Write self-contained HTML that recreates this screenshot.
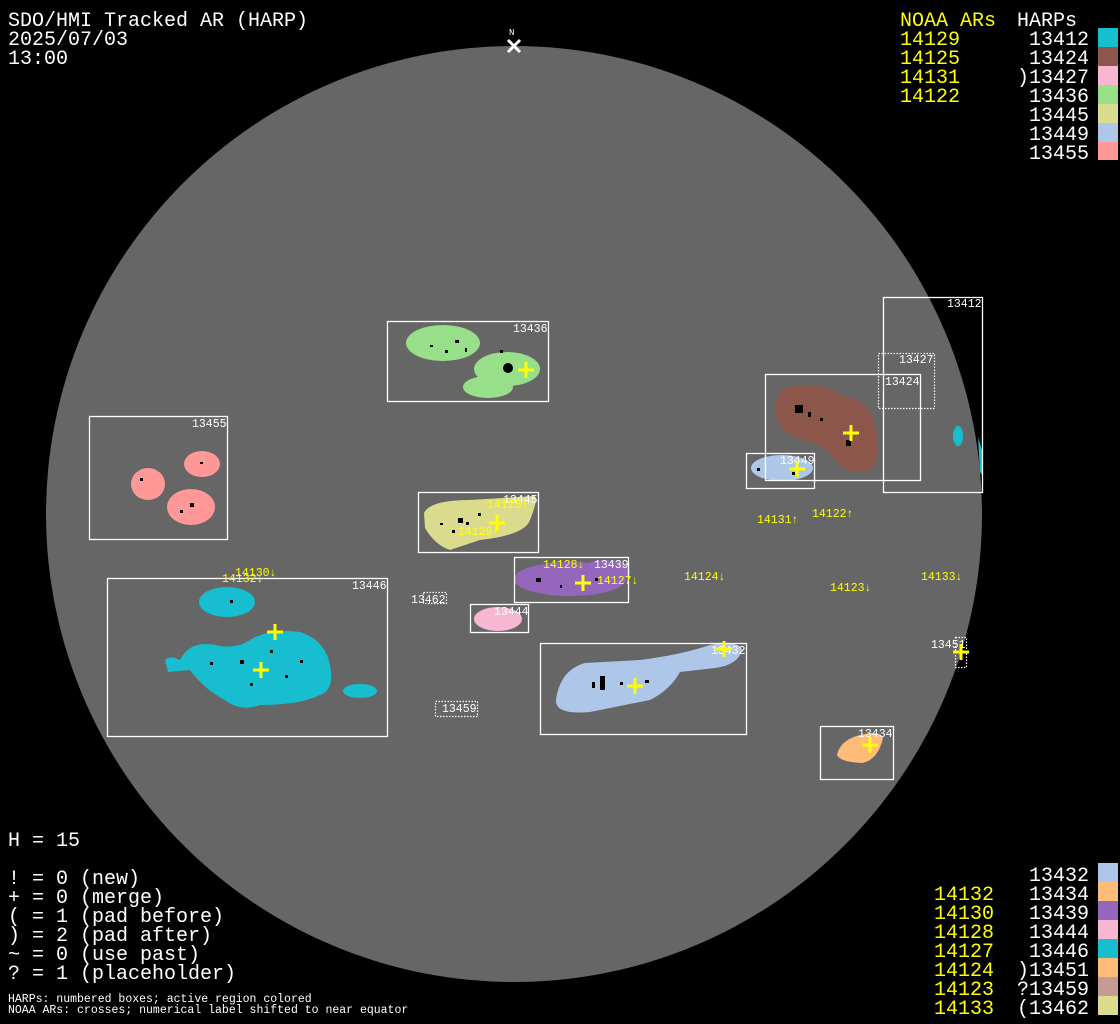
<!DOCTYPE html>
<html><head><meta charset="utf-8"><style>
html,body{margin:0;padding:0;background:#000;width:1120px;height:1024px;overflow:hidden}
svg{display:block}
.t{font-family:"Liberation Mono",monospace;font-size:20px;fill:#fff}
.y{fill:#ffff00}
.s{font-family:"Liberation Mono",monospace;font-size:11.5px;fill:#fff}
.sy{font-family:"Liberation Mono",monospace;font-size:11.5px;fill:#ffff00}
.b{fill:none;stroke:#fff;stroke-width:1.3}
.d{fill:none;stroke:#fff;stroke-width:1.2;stroke-dasharray:1.5 1.5}
.c{stroke:#ffff00;stroke-width:3}
</style></head><body>
<svg width="1120" height="1024" viewBox="0 0 1120 1024" xmlns="http://www.w3.org/2000/svg">
<rect width="1120" height="1024" fill="#000"/>
<circle cx="514" cy="514" r="468" fill="#666"/>
<text x="509" y="35" class="s" style="font-size:9px">N</text>
<path d="M508 40 L520 52 M520 40 L508 52" stroke="#fff" stroke-width="3"/>

<g>
<ellipse cx="443" cy="343" rx="37" ry="18" fill="#98df8a"/>
<ellipse cx="507" cy="369" rx="33" ry="17" fill="#98df8a"/>
<ellipse cx="488" cy="387" rx="25" ry="11" fill="#98df8a"/>
<circle cx="508" cy="368" r="5" fill="#000"/>
<ellipse cx="148" cy="484" rx="17" ry="16" fill="#ff9896"/>
<ellipse cx="202" cy="464" rx="18" ry="13" fill="#ff9896"/>
<ellipse cx="191" cy="507" rx="24" ry="18" fill="#ff9896"/>
<path d="M424 513 Q430 500 470 500 L535 496 Q538 500 530 520 Q525 535 480 540 L450 550 Q435 545 425 528 Z" fill="#dbdb8d"/>
<ellipse cx="570" cy="579" rx="56" ry="17" fill="#9467bd"/>
<ellipse cx="605" cy="572" rx="25" ry="12" fill="#9467bd"/>
<ellipse cx="498" cy="619" rx="24" ry="12" fill="#f7b6d2"/>
<ellipse cx="227" cy="602" rx="28" ry="15" fill="#17becf"/>
<path d="M165 660 Q170 655 180 660 Q190 640 215 645 Q235 650 250 640 Q270 628 300 632 Q325 640 330 665 Q335 690 320 695 Q300 705 260 705 Q240 712 225 700 Q205 690 190 670 L168 672 Z" fill="#17becf"/>
<ellipse cx="360" cy="691" rx="17" ry="7" fill="#17becf"/>
<path d="M556 700 Q560 670 585 663 L640 660 Q680 655 710 645 Q740 640 742 650 Q738 665 715 668 L680 672 Q670 690 650 700 L590 712 Q555 715 556 700 Z" fill="#aec7e8"/>
<path d="M837 755 Q840 740 860 735 Q880 730 883 738 Q878 760 862 763 Q840 762 837 755 Z" fill="#ffbb78"/>
<path d="M775 410 Q775 385 800 385 Q830 385 840 395 Q870 400 875 425 Q882 460 870 470 Q850 475 840 465 Q825 445 805 440 Q778 435 775 410 Z" fill="#8c564b"/>
<ellipse cx="782" cy="468" rx="31" ry="13" fill="#aec7e8"/>
<ellipse cx="958" cy="436" rx="5" ry="10" fill="#17becf"/>
<path d="M978 437 L982 450 L982 475 L980 472 Z" fill="#17becf"/>
</g>

<g fill="#000">
<rect x="500" y="350" width="3" height="3"/><rect x="455" y="340" width="4" height="3"/><rect x="430" y="345" width="3" height="2"/><rect x="445" y="350" width="3" height="3"/><rect x="465" y="348" width="2" height="4"/>
<rect x="140" y="478" width="3" height="3"/><rect x="190" y="503" width="4" height="4"/><rect x="200" y="462" width="3" height="2"/><rect x="180" y="510" width="3" height="3"/>
<rect x="458" y="518" width="5" height="5"/><rect x="466" y="522" width="3" height="3"/><rect x="478" y="513" width="3" height="3"/><rect x="440" y="523" width="3" height="2"/><rect x="452" y="530" width="3" height="3"/>
<rect x="536" y="578" width="5" height="4"/><rect x="595" y="578" width="3" height="3"/><rect x="560" y="585" width="2" height="3"/>
<rect x="600" y="676" width="5" height="14"/><rect x="592" y="682" width="3" height="6"/><rect x="645" y="680" width="4" height="3"/><rect x="620" y="682" width="3" height="3"/>
<rect x="795" y="405" width="8" height="8"/><rect x="808" y="412" width="3" height="5"/><rect x="846" y="440" width="5" height="6"/><rect x="820" y="418" width="3" height="3"/>
<rect x="230" y="600" width="3" height="3"/><rect x="240" y="660" width="4" height="4"/><rect x="270" y="650" width="3" height="3"/><rect x="300" y="660" width="3" height="3"/><rect x="250" y="683" width="3" height="3"/><rect x="210" y="662" width="3" height="3"/><rect x="285" y="675" width="3" height="3"/>
<rect x="757" y="468" width="3" height="3"/><rect x="792" y="472" width="3" height="3"/>
</g>

<rect x="387.5" y="321.5" width="161" height="80" class="b"/>
<rect x="89.5" y="416.5" width="138" height="123" class="b"/>
<rect x="418.5" y="492.5" width="120" height="60" class="b"/>
<rect x="514.5" y="557.5" width="114" height="45" class="b"/>
<rect x="470.5" y="604.5" width="58" height="28" class="b"/>
<rect x="107.5" y="578.5" width="280" height="158" class="b"/>
<rect x="540.5" y="643.5" width="206" height="91" class="b"/>
<rect x="820.5" y="726.5" width="73" height="53" class="b"/>
<rect x="765.5" y="374.5" width="155" height="106" class="b"/>
<rect x="883.5" y="297.5" width="99" height="195" class="b"/>
<rect x="746.5" y="453.5" width="68" height="35" class="b"/>
<rect x="878.5" y="353.5" width="56" height="55" class="d"/>
<rect x="423.5" y="592.5" width="23" height="11" class="d"/>
<rect x="435.5" y="701.5" width="42" height="15" class="d"/>
<rect x="955.5" y="637.5" width="11" height="30" class="d"/>

<g class="s">
<text x="513" y="332">13436</text>
<text x="192" y="427">13455</text>
<text x="503" y="503">13445</text>
<text x="594" y="568">13439</text>
<text x="494" y="615">13444</text>
<text x="352" y="589">13446</text>
<text x="711" y="654">13432</text>
<text x="858" y="737">13434</text>
<text x="885" y="385">13424</text>
<text x="947" y="307">13412</text>
<text x="899" y="363">13427</text>
<text x="780" y="464">13449</text>
<text x="411" y="603">13462</text>
<text x="442" y="712">13459</text>
<text x="931" y="648">13451</text>
</g>

<g class="sy">
<text x="487" y="508">14125↑</text>
<text x="458" y="535">14129↑</text>
<text x="757" y="523">14131↑</text>
<text x="812" y="517">14122↑</text>
<text x="684" y="580">14124↓</text>
<text x="830" y="591">14123↓</text>
<text x="921" y="580">14133↓</text>
<text x="543" y="568">14128↓</text>
<text x="597" y="584">14127↓</text>
<text x="235" y="576">14130↓</text>
<text x="222" y="582">14132↓</text>
</g>

<g class="c">
<path d="M518 370h16M526 362v16"/>
<path d="M843 433h16M851 425v16"/>
<path d="M789 469h16M797 461v16"/>
<path d="M489 523h16M497 515v16"/>
<path d="M575 583h16M583 575v16"/>
<path d="M267 632h16M275 624v16"/>
<path d="M253 670h16M261 662v16"/>
<path d="M627 686h16M635 678v16"/>
<path d="M716 649h16M724 641v16"/>
<path d="M862 745h16M870 737v16"/>
<path d="M953 652h16M961 644v16"/>
</g>

<text x="8" y="26" class="t">SDO/HMI Tracked AR (HARP)</text>
<text x="8" y="45" class="t">2025/07/03</text>
<text x="8" y="64" class="t">13:00</text>

<text x="900" y="26" class="t y">NOAA ARs</text>
<text x="1017" y="26" class="t">HARPs</text>
<g class="t y">
<text x="900" y="45">14129</text><text x="900" y="64">14125</text><text x="900" y="83">14131</text><text x="900" y="102">14122</text>
</g>
<g class="t" text-anchor="end">
<text x="1089" y="45">13412</text><text x="1089" y="64">13424</text><text x="1089" y="83">)13427</text><text x="1089" y="102">13436</text>
<text x="1089" y="121">13445</text><text x="1089" y="140">13449</text><text x="1089" y="159">13455</text>
</g>
<rect x="1098" y="28" width="20" height="19" fill="#17becf"/>
<rect x="1098" y="47" width="20" height="19" fill="#8c564b"/>
<rect x="1098" y="66" width="20" height="19" fill="#f7b6d2"/>
<rect x="1098" y="85" width="20" height="19" fill="#98df8a"/>
<rect x="1098" y="104" width="20" height="19" fill="#dbdb8d"/>
<rect x="1098" y="123" width="20" height="19" fill="#aec7e8"/>
<rect x="1098" y="142" width="20" height="18" fill="#ff9896"/>

<g class="t y">
<text x="934" y="900">14132</text><text x="934" y="919">14130</text><text x="934" y="938">14128</text><text x="934" y="957">14127</text>
<text x="934" y="976">14124</text><text x="934" y="995">14123</text><text x="934" y="1014">14133</text>
</g>
<g class="t" text-anchor="end">
<text x="1089" y="881">13432</text><text x="1089" y="900">13434</text><text x="1089" y="919">13439</text><text x="1089" y="938">13444</text>
<text x="1089" y="957">13446</text><text x="1089" y="976">)13451</text><text x="1089" y="995">?13459</text><text x="1089" y="1014">(13462</text>
</g>
<rect x="1098" y="863" width="20" height="19" fill="#aec7e8"/>
<rect x="1098" y="882" width="20" height="19" fill="#ffbb78"/>
<rect x="1098" y="901" width="20" height="19" fill="#9467bd"/>
<rect x="1098" y="920" width="20" height="19" fill="#f7b6d2"/>
<rect x="1098" y="939" width="20" height="19" fill="#17becf"/>
<rect x="1098" y="958" width="20" height="19" fill="#ffbb78"/>
<rect x="1098" y="977" width="20" height="19" fill="#c49c94"/>
<rect x="1098" y="996" width="20" height="19" fill="#dbdb8d"/>

<text x="8" y="846" class="t">H = 15</text>
<g class="t">
<text x="8" y="884">! = 0 (new)</text>
<text x="8" y="903">+ = 0 (merge)</text>
<text x="8" y="922">( = 1 (pad before)</text>
<text x="8" y="941">) = 2 (pad after)</text>
<text x="8" y="960">~ = 0 (use past)</text>
<text x="8" y="979">? = 1 (placeholder)</text>
</g>
<text x="8" y="1002" class="s">HARPs: numbered boxes; active region colored</text>
<text x="8" y="1013" class="s">NOAA ARs: crosses; numerical label shifted to near equator</text>
</svg>
</body></html>
